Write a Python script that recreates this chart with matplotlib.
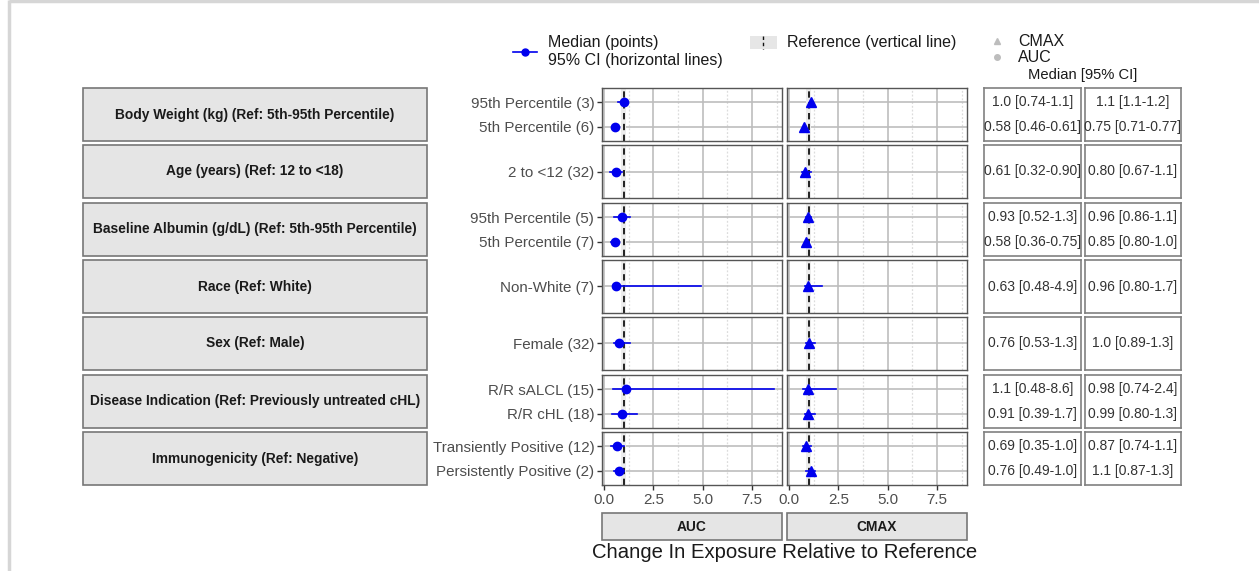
import numpy as np
import matplotlib
matplotlib.use("Agg")
import matplotlib.pyplot as plt
from matplotlib.patches import Rectangle

plt.rcParams['font.family'] = ['Liberation Sans', 'DejaVu Sans']

W, H = 1259, 571
DPI = 100

# covariate facets (top to bottom) and their levels
covariates = [
    "Body Weight (kg) (Ref: 5th-95th Percentile)",
    "Age (years) (Ref: 12 to <18)",
    "Baseline Albumin (g/dL) (Ref: 5th-95th Percentile)",
    "Race (Ref: White)",
    "Sex (Ref: Male)",
    "Disease Indication (Ref: Previously untreated cHL)",
    "Immunogenicity (Ref: Negative)",
]
levels = [
    ["95th Percentile (3)", "5th Percentile (6)"],
    ["2 to <12 (32)"],
    ["95th Percentile (5)", "5th Percentile (7)"],
    ["Non-White (7)"],
    ["Female (32)"],
    ["R/R sALCL (15)", "R/R cHL (18)"],
    ["Transiently Positive (12)", "Persistently Positive (2)"],
]

auc_med = [[1.0, 0.58], [0.61], [0.93, 0.58], [0.63], [0.76], [1.1, 0.91], [0.69, 0.76]]
auc_lo = [[0.74, 0.46], [0.32], [0.52, 0.36], [0.48], [0.53], [0.48, 0.39], [0.35, 0.49]]
auc_hi = [[1.1, 0.61], [0.90], [1.3, 0.75], [4.9], [1.3], [8.6, 1.7], [1.0, 1.0]]

cmax_med = [[1.1, 0.75], [0.80], [0.96, 0.85], [0.96], [1.0], [0.98, 0.99], [0.87, 1.1]]
cmax_lo = [[1.1, 0.71], [0.67], [0.86, 0.80], [0.80], [0.89], [0.74, 0.80], [0.74, 0.87]]
cmax_hi = [[1.2, 0.77], [1.1], [1.1, 1.0], [1.7], [1.3], [2.4, 1.3], [1.1, 1.3]]

metrics = ["AUC", "CMAX"]
x_ticks = [0.0, 2.5, 5.0, 7.5]
x_minor = [1.25, 3.75, 6.25, 8.75]
ref_value = 1.0

# layout in pixels (top-left origin)
row_top = [88, 145, 203, 260, 317, 375, 432]
row_h = 53
strip_x = (83, 427)
panel_x = [(602, 782), (787, 967)]
table_x = [(984, 1081), (1085, 1181)]

BLUE = "#0000ee"
GRID = "#bdbdbd"
BORDER = "#555555"


def px_axes(fig, x0, y0, x1, y1):
    return fig.add_axes([x0 / W, 1 - y1 / H, (x1 - x0) / W, (y1 - y0) / H])


def fmt(v):
    return f"{v:#.2g}"


# shared x range, padded like ggplot's default expansion
all_lo = min(min(sum(auc_lo, [])), min(sum(cmax_lo, [])))
all_hi = max(max(sum(auc_hi, [])), max(sum(cmax_hi, [])))
span = all_hi - all_lo
xlim = (all_lo - 0.05 * span, all_hi + 0.05 * span)

fig = plt.figure(figsize=(W / DPI, H / DPI), dpi=DPI)

# overlay in pixel coordinates for legends, titles and frame
ov = fig.add_axes([0, 0, 1, 1])
ov.set_xlim(0, W)
ov.set_ylim(H, 0)
ov.axis('off')
ov.plot([9, 9], [0, H], color="#d6d6d6", lw=2.5, solid_capstyle='butt')
ov.plot([9, W], [1, 1], color="#d6d6d6", lw=2.5, solid_capstyle='butt')

meds = [auc_med, cmax_med]
los = [auc_lo, cmax_lo]
his = [auc_hi, cmax_hi]
markers = ["o", "^"]
msizes = [6, 6.5]

for i, cov in enumerate(covariates):
    top = row_top[i]
    bot = top + row_h
    n = len(levels[i])
    ys = [n - j for j in range(n)]

    # covariate strip on the left
    ax_s = px_axes(fig, strip_x[0], top, strip_x[1], bot)
    ax_s.set_xlim(0, 1)
    ax_s.set_ylim(0, 1)
    ax_s.axis('off')
    ax_s.add_patch(Rectangle((0, 0), 1, 1, facecolor="#e5e5e5", edgecolor="#777777",
                             lw=1.2, transform=ax_s.transAxes, clip_on=False))
    ax_s.text(0.5, 0.5, cov, ha='center', va='center', fontsize=9.9,
              fontweight='bold', color="#1a1a1a")

    for k in range(2):
        ax = px_axes(fig, panel_x[k][0], top, panel_x[k][1], bot)
        ax.set_xlim(*xlim)
        ax.set_ylim(0.4, n + 0.6)
        for xm in x_minor:
            ax.axvline(xm, color="#dcdcdc", lw=0.9, ls=(0, (1.5, 1.5)), zorder=0)
        for xt in x_ticks:
            ax.axvline(xt, color=GRID, lw=1.2, zorder=0)
        for y in ys:
            ax.axhline(y, color=GRID, lw=1.2, zorder=0)
        ax.axvspan(ref_value - 0.12, ref_value + 0.12, color="#ececec", zorder=0.5, lw=0)
        ax.axvline(ref_value, color="#111111", lw=1.3, ls=(0, (3.5, 2.5)), zorder=1)
        for j, y in enumerate(ys):
            ax.plot([los[k][i][j], his[k][i][j]], [y, y], color=BLUE, lw=1.2, zorder=3)
            ax.plot(meds[k][i][j], y, marker=markers[k], ms=msizes[k], color=BLUE,
                    mec=BLUE, zorder=4, ls='none')
        for sp in ax.spines.values():
            sp.set_color(BORDER)
            sp.set_linewidth(1.0)
        ax.set_xticks(x_ticks)
        ax.tick_params(axis='both', length=3.5, width=1.0, color="#333333",
                       labelsize=10.9, labelcolor="#4d4d4d", pad=2)
        if k == 0:
            ax.set_yticks(ys)
            ax.set_yticklabels(levels[i])
        else:
            ax.set_yticks([])
        if i == len(covariates) - 1:
            ax.set_xticklabels([f"{t:.1f}" for t in x_ticks])
        else:
            ax.tick_params(axis='x', length=0)
            ax.set_xticklabels([])

        # median [95% CI] table cell
        ax_t = px_axes(fig, table_x[k][0], top, table_x[k][1], bot)
        ax_t.set_xlim(0, 1)
        ax_t.set_ylim(0.4, n + 0.6)
        ax_t.set_xticks([])
        ax_t.set_yticks([])
        for sp in ax_t.spines.values():
            sp.set_color("#808080")
            sp.set_linewidth(1.2)
        for j, y in enumerate(ys):
            label = f"{fmt(meds[k][i][j])} [{fmt(los[k][i][j])}-{fmt(his[k][i][j])}]"
            ax_t.text(0.5, y, label, ha='center', va='center', fontsize=10,
                      color="#333333", clip_on=False)

# metric strips below the x axis
for k, m in enumerate(metrics):
    x0, x1 = panel_x[k]
    ov.add_patch(Rectangle((x0, 513), x1 - x0, 27, facecolor="#e5e5e5",
                           edgecolor="#777777", lw=1.2))
    ov.text((x0 + x1) / 2, 527, m, ha='center', va='center', fontsize=9.9,
            fontweight='bold', color="#1a1a1a")

ov.text(784.5, 553, "Change In Exposure Relative to Reference", ha='center',
        va='center', fontsize=14.6, color="#1a1a1a")

# legend: median / CI
ov.plot([513, 537], [52, 52], color=BLUE, lw=1.2)
ov.plot([525], [52], marker='o', ms=5, color=BLUE, ls='none')
ov.text(548, 42, "Median (points)", ha='left', va='center', fontsize=11.5, color="#1a1a1a")
ov.text(548, 60, "95% CI (horizontal lines)", ha='left', va='center', fontsize=11.5,
        color="#1a1a1a")

# legend: reference line
ov.add_patch(Rectangle((750, 36), 27, 13, facecolor="#e6e6e6", edgecolor='none'))
ov.plot([763.5, 763.5], [36, 49], color="#111111", lw=1.0, ls=(0, (2.5, 2)))
ov.text(787, 42, "Reference (vertical line)", ha='left', va='center', fontsize=11.5,
        color="#1a1a1a")

# legend: metric shapes
ov.plot([997], [41], marker='^', ms=5, color="#bdbdbd", ls='none')
ov.plot([997], [57], marker='o', ms=4, color="#bdbdbd", ls='none')
ov.text(1018, 42, "CMAX", ha='left', va='center', fontsize=11.5, color="#1a1a1a")
ov.text(1018, 57, "AUC", ha='left', va='center', fontsize=11.5, color="#1a1a1a")
ov.text(1083, 75, "Median [95% CI]", ha='center', va='center', fontsize=10.6,
        color="#1a1a1a")

fig.savefig("out.png", dpi=DPI)
